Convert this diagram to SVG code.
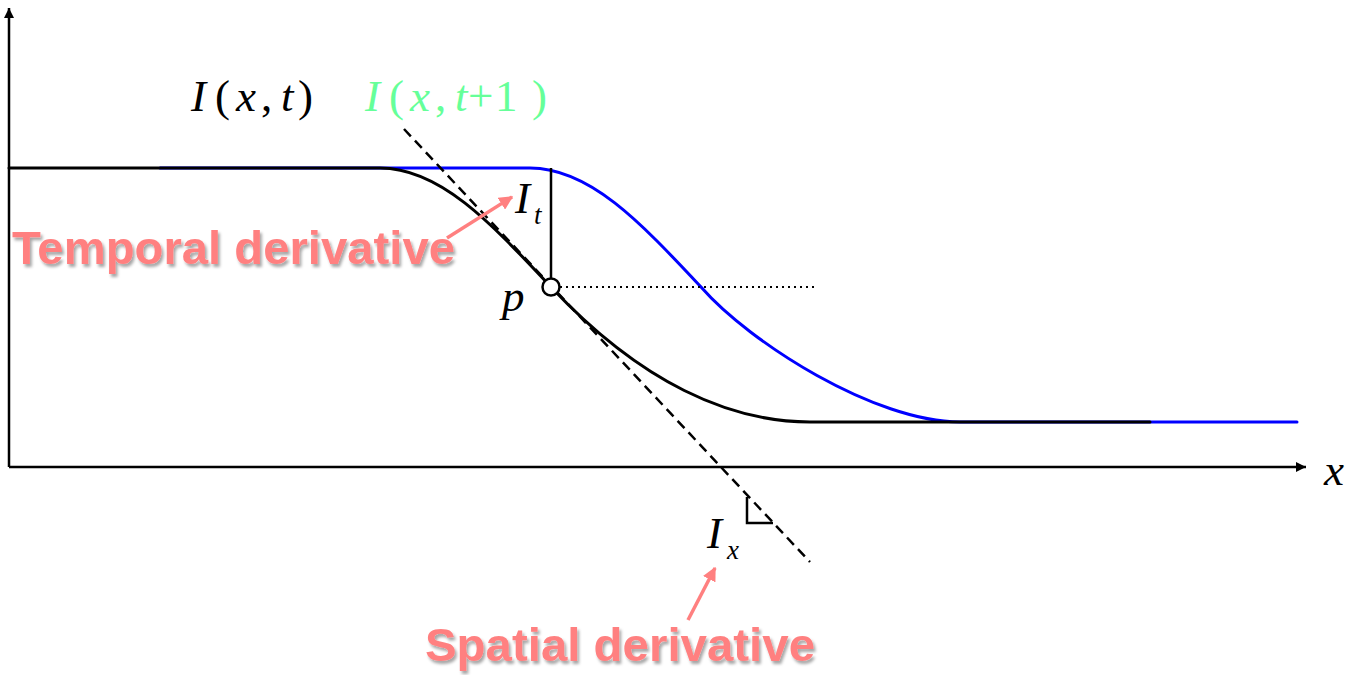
<svg xmlns="http://www.w3.org/2000/svg" width="1353" height="675" viewBox="0 0 1353 675">
<style>
.m{font-family:"Liberation Serif","Times New Roman",serif;font-size:45px}
.sub{font-size:27px}
.i{font-style:italic}
.lbl{font-family:"Liberation Sans",Arial,sans-serif;font-weight:bold;font-size:46px;fill:#ff8080}
.curve{fill:none;stroke-width:3;stroke-linecap:round}
</style>
<defs>
<marker id="ah" viewBox="0 0 10 10" refX="10" refY="5" markerWidth="10" markerHeight="10" markerUnits="userSpaceOnUse" orient="auto">
<path d="M0,0 L10,5 L0,10 z" fill="#000"/>
</marker>
<marker id="pk" viewBox="0 0 10 10" refX="9" refY="5" markerWidth="14" markerHeight="14" markerUnits="userSpaceOnUse" orient="auto">
<path d="M0,0 L10,5 L0,10 z" fill="#ff8080"/>
</marker>
<filter id="sh" x="-10%" y="-30%" width="120%" height="160%">
<feDropShadow dx="2" dy="3" stdDeviation="1.5" flood-color="#000" flood-opacity="0.35"/>
</filter>
</defs>
<g id="axes">
<line x1="9" y1="467" x2="9" y2="8" stroke="#000" stroke-width="2.5" marker-end="url(#ah)"/>
<line x1="9" y1="467" x2="1306" y2="467" stroke="#000" stroke-width="2.5" marker-end="url(#ah)"/>
<text class="m i" x="1324" y="485">x</text>
</g>
<g id="connectors">
<path id="blue-curve" class="curve" stroke="#0000ff" d="M160,168 L530,168 C590,168 641,223 701,287 C750,343 875,422 960,422 L1297,422"/>
<path id="black-curve" class="curve" stroke="#000" d="M9,168 L380,168 C440,168 491,223 551,287 C641,383 730,422 810,422 L1150,422"/>
<line id="tangent" x1="404" y1="129" x2="810" y2="562" stroke="#000" stroke-width="2.5" stroke-dasharray="10,6"/>
<line id="it-line" x1="551" y1="168" x2="551" y2="280" stroke="#000" stroke-width="2.5"/>
<line id="dotted" x1="560" y1="287" x2="816" y2="287" stroke="#000" stroke-width="2" stroke-dasharray="2,4"/>
<path id="right-angle" d="M747,497 L747,523 L773,523" fill="none" stroke="#000" stroke-width="2.5"/>
<line id="arrow-temporal" x1="447" y1="238" x2="512" y2="197" stroke="#ff8080" stroke-width="3.5" marker-end="url(#pk)"/>
<line id="arrow-spatial" x1="688" y1="620" x2="715" y2="568" stroke="#ff8080" stroke-width="3.5" marker-end="url(#pk)"/>
</g>
<g id="node-p">
<circle cx="551" cy="287" r="8.5" fill="#fff" stroke="#000" stroke-width="2.5"/>
<text class="m i" x="502" y="311">p</text>
</g>
<g id="label-Ixt">
<text class="m" y="111"><tspan class="i" x="191">I</tspan><tspan x="215">(</tspan><tspan class="i" x="236">x</tspan><tspan x="261">,</tspan><tspan class="i" x="281">t</tspan><tspan x="298">)</tspan></text>
</g>
<g id="label-Ixt1">
<text class="m" y="111" fill="#66ff99"><tspan class="i" x="365">I</tspan><tspan x="389">(</tspan><tspan class="i" x="410">x</tspan><tspan x="435">,</tspan><tspan class="i" x="455">t</tspan><tspan x="468">+</tspan><tspan x="495">1</tspan><tspan x="532">)</tspan></text>
</g>
<g id="label-It">
<text class="m i" x="515" y="213">I</text>
<text class="m i sub" x="534" y="224">t</text>
</g>
<g id="label-Ix">
<text class="m i" x="707" y="548">I</text>
<text class="m i sub" x="727" y="559">x</text>
</g>
<g id="label-temporal">
<text class="lbl" x="12" y="264" textLength="443" lengthAdjust="spacingAndGlyphs" filter="url(#sh)">Temporal derivative</text>
</g>
<g id="label-spatial">
<text class="lbl" x="425" y="661" textLength="390" lengthAdjust="spacingAndGlyphs" filter="url(#sh)">Spatial derivative</text>
</g>
</svg>
